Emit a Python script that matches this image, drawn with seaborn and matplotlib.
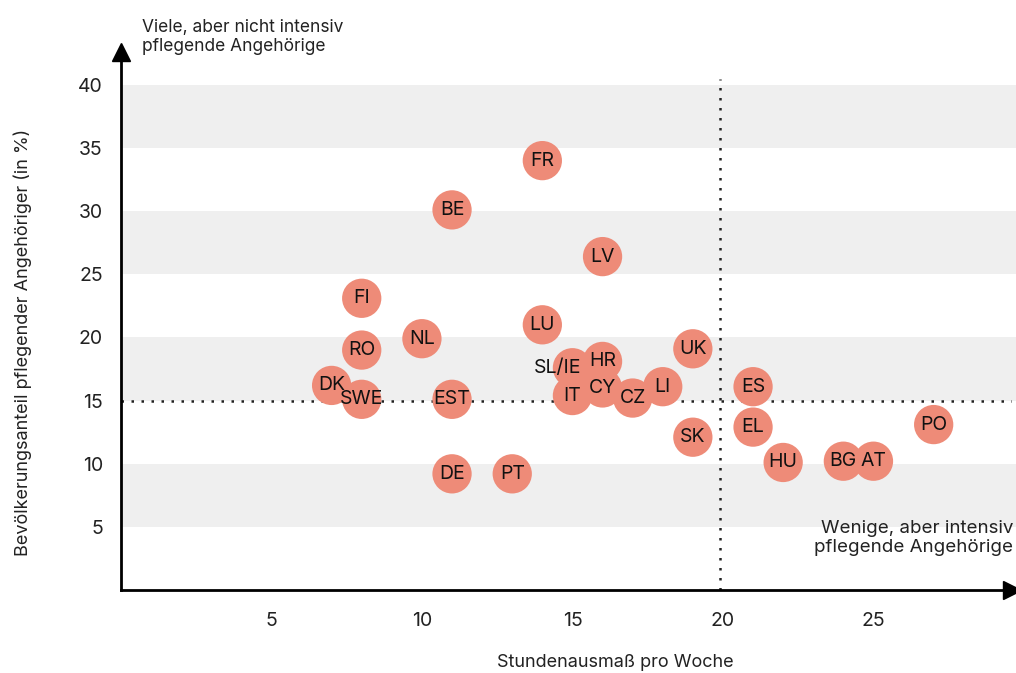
import pandas as pd
import matplotlib.pyplot as plt
import seaborn as sns

# values
laender = ['FR', 'BE', 'LV', 'FI', 'LU', 'NL', 'RO', 'UK', 'HR', 'SL/IE', 'DK', 'SWE', 'EST',
           'IT', 'CY', 'CZ', 'LI', 'ES', 'EL', 'SK', 'HU', 'BG', 'AT', 'PO', 'DE', 'PT']
stunden = [14, 11, 16, 8, 14, 10, 8, 19, 16, 15, 7, 8, 11,
           15, 16, 17, 18, 21, 21, 19, 22, 24, 25, 27, 11, 13]
anteil = [34.0, 30.1, 26.4, 23.1, 21.0, 19.9, 19.0, 19.1, 18.1, 17.6, 16.2, 15.1, 15.1,
          15.4, 16.0, 15.2, 16.1, 16.1, 12.9, 12.1, 10.1, 10.2, 10.2, 13.1, 9.2, 9.2]
x_ticks = [5, 10, 15, 20, 25]
y_ticks = [5, 10, 15, 20, 25, 30, 35, 40]
baender = [(5, 10), (15, 20), (25, 30), (35, 40)]

df = pd.DataFrame({'land': laender, 'stunden': stunden, 'anteil': anteil})

sns.set_style('white')
plt.rcParams['font.family'] = ['Inter', 'DejaVu Sans']

fig = plt.figure(figsize=(10.16, 6.73), dpi=100)
ax = fig.add_axes([0.119, 0.1233, 0.877, 0.7994])
ax.set_xlim(0, 29.6)
ax.set_ylim(0, 42.6)

# grey horizontal bands
for lo, hi in baender:
    ax.axhspan(lo, hi, xmin=0, xmax=1.05, color='#efefef', zorder=0, clip_on=False, lw=0)

# dotted reference lines
ax.plot([19.9, 19.9], [0, 40.5], color='#222222', ls=(0, (1, 3)), lw=1.8, zorder=1)
ax.plot([0, 29.6], [15, 15], color='#222222', ls=(0, (1, 3)), lw=1.8, zorder=1)

sns.scatterplot(data=df, x='stunden', y='anteil', s=800, color='#ee8b78',
                edgecolor='none', linewidth=0, ax=ax, zorder=3, clip_on=False)

for _, r in df.iterrows():
    dx = -11 if r['land'] == 'SL/IE' else 0
    ax.annotate(r['land'], (r['stunden'], r['anteil']), xytext=(dx, 0),
                textcoords='offset points', ha='center', va='center',
                fontsize=14, color='#111111', zorder=4)

# axes with arrows
for s in ['top', 'right']:
    ax.spines[s].set_visible(False)
for s in ['left', 'bottom']:
    ax.spines[s].set_linewidth(2)
    ax.spines[s].set_color('black')
ax.plot(1, 0, '>', color='black', markersize=13, transform=ax.transAxes, clip_on=False)
ax.plot(0, 1, '^', color='black', markersize=13, transform=ax.transAxes, clip_on=False)

ax.set_xticks(x_ticks)
ax.set_yticks(y_ticks)
ax.tick_params(axis='x', length=0, pad=16, labelsize=14, labelcolor='#222222')
ax.tick_params(axis='y', length=0, pad=13, labelsize=14, labelcolor='#222222')

ax.set_xlabel('Stundenausmaß pro Woche', fontsize=13, color='#222222')
ax.xaxis.set_label_coords(0.555, -0.118)
ax.set_ylabel('Bevölkerungsanteil pflegender Angehöriger (in %)', fontsize=13, color='#222222')
ax.yaxis.set_label_coords(-0.1, 0.46)

fig.text(0.14, 0.945, 'Viele, aber nicht intensiv\npflegende Angehörige',
         ha='left', va='center', fontsize=12.5, linespacing=1.15, color='#222222')
fig.text(0.997, 0.2, 'Wenige, aber intensiv\npflegende Angehörige',
         ha='right', va='center', fontsize=13.5, linespacing=1.15, color='#222222')

fig.savefig('out.png', dpi=100)
